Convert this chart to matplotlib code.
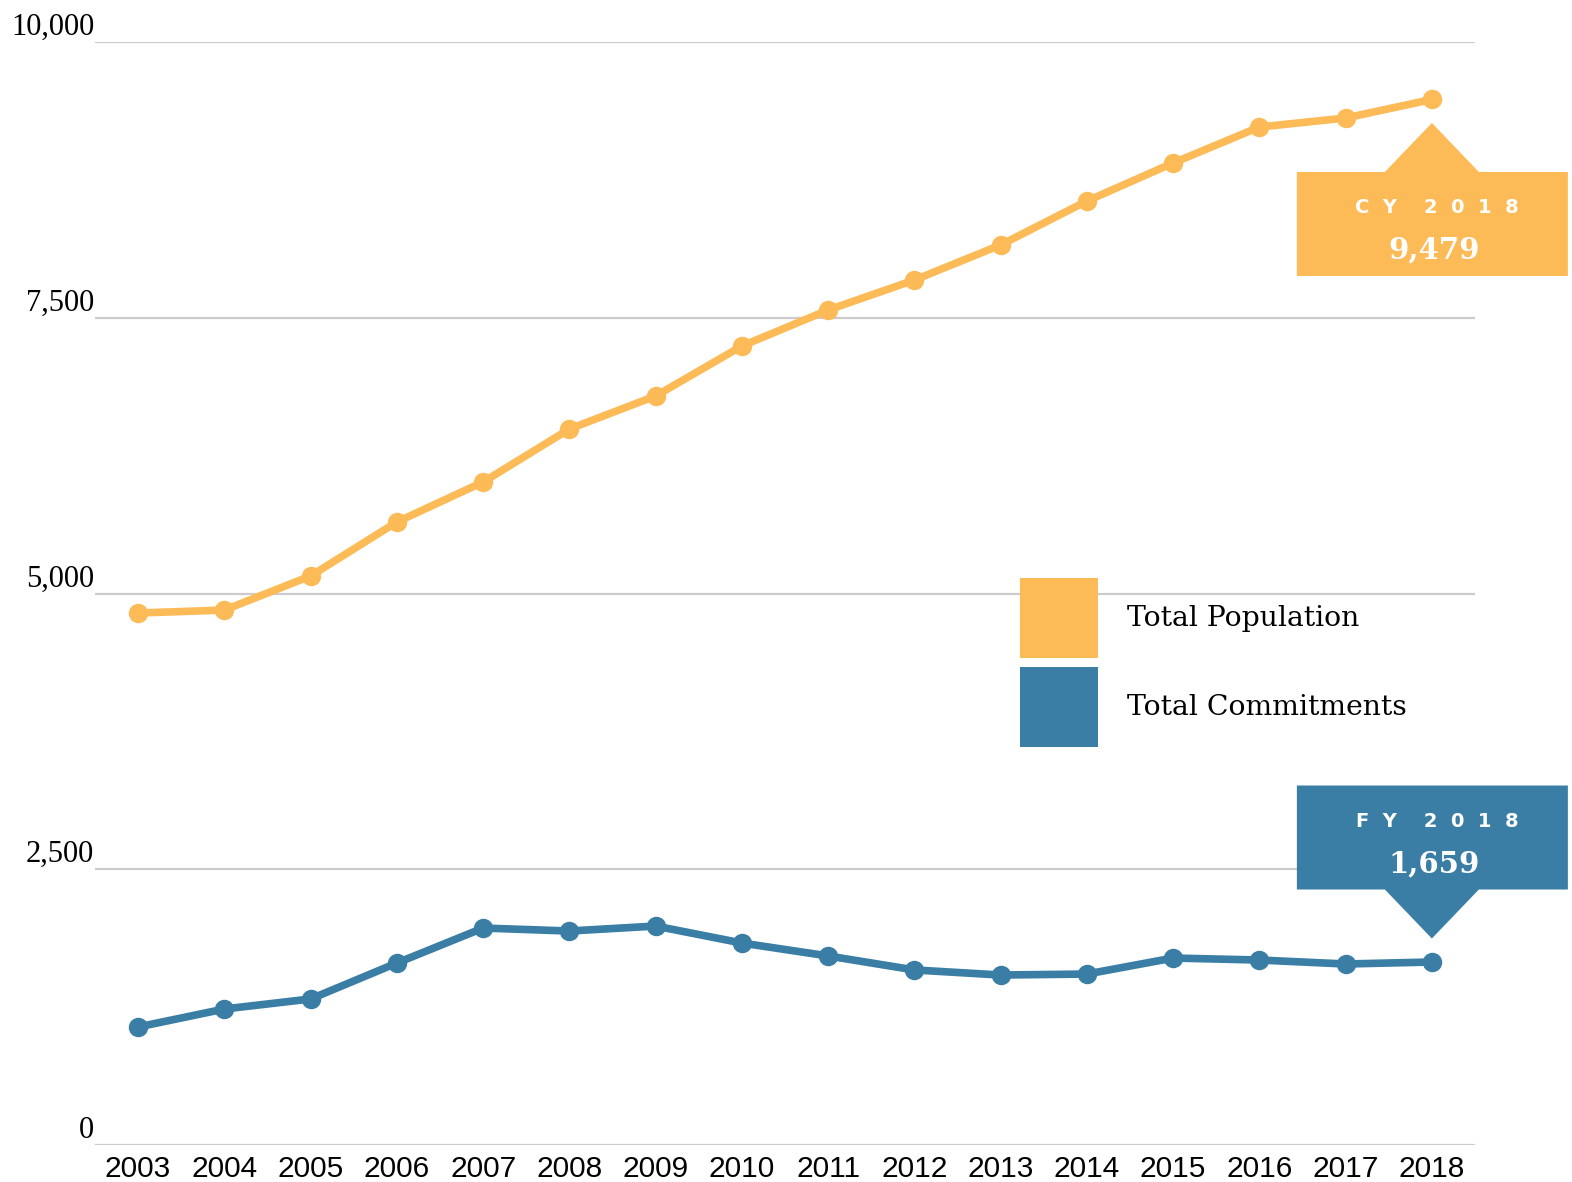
import matplotlib
matplotlib.use("Agg")
from matplotlib import pyplot
from matplotlib.patches import Polygon, Patch
from matplotlib.transforms import Affine2D, ScaledTranslation

years = list(range(2003, 2019))
population = [4823, 4850, 5159, 5648, 6011, 6491, 6791, 7244,
              7570, 7842, 8160, 8558, 8903, 9229, 9311, 9479]
commitments = [1070, 1233, 1324, 1650, 1967, 1940, 1985, 1831,
               1714, 1587, 1541, 1550, 1695, 1677, 1641, 1659]
y_ticks = [0, 2500, 5000, 7500, 10000]
y_labels = ["0", "2,500", "5,000", "7,500", "10,000"]

orange = "#fdbb58"
blue = "#3a7ea5"

fig = pyplot.figure(figsize=(15.72, 11.82), dpi=100)
ax = fig.add_axes([95 / 1572, 1 - 1145 / 1182, 1380 / 1572, 1103 / 1182])

ax.plot(years, population, color=orange, lw=5.5, marker="o",
        markersize=13, zorder=3, solid_capstyle="round")
ax.plot(years, commitments, color=blue, lw=5.5, marker="o",
        markersize=13, zorder=3, solid_capstyle="round")

ax.set_xlim(2002.5, 2018.5)
ax.set_ylim(0, 10000)
ax.set_xticks(years)
ax.set_xticklabels([str(y) for y in years], family="Liberation Sans",
                   fontsize=21.5)
ax.set_yticks(y_ticks)
ax.set_yticklabels(y_labels, family="Liberation Serif", fontsize=22)
for lbl in ax.get_yticklabels():
    lbl.set_verticalalignment("bottom")
ax.tick_params(axis="both", length=0)
ax.tick_params(axis="y", pad=0.5)
ax.tick_params(axis="x", pad=7)
ax.yaxis.grid(True, color="#cccccc", lw=1.6)
ax.set_axisbelow(True)
for s in ax.spines.values():
    s.set_visible(False)


# callout boxes, shaped in pixels around the last point of each series
def callout(x, y, color, head, value, up):
    s = 1 if up else -1
    pts = [(-135, -72.5), (-47, -72.5), (0, -23.5), (47, -72.5),
           (136, -72.5), (136, -176.5), (-135, -176.5)]
    pts = [(px, s * py) for px, py in pts]
    top = -72.5 if up else 176.5
    tr = Affine2D() + ScaledTranslation(x, y, ax.transData)
    ax.add_patch(Polygon(pts, closed=True, facecolor=color,
                         edgecolor="none", transform=tr, clip_on=False,
                         zorder=4))
    ax.text(5, top - 36, head, transform=tr, color="white",
            fontsize=14, fontweight="bold", family="DejaVu Sans",
            ha="center", va="center", zorder=5)
    ax.text(2, top - 78, value, transform=tr, color="white",
            fontsize=21, fontweight="bold", family="DejaVu Serif",
            ha="center", va="center", zorder=5)


callout(years[-1], population[-1], orange, "C  Y    2  0  1  8",
        f"{population[-1]:,}", True)
callout(years[-1], commitments[-1], blue, "F  Y    2  0  1  8",
        f"{commitments[-1]:,}", False)

handles = [Patch(facecolor=orange, edgecolor="none"),
           Patch(facecolor=blue, edgecolor="none")]
ax.legend(handles, ["Total Population", "Total Commitments"],
          loc="upper left", bbox_to_anchor=(1020 / 1572, 1 - 578 / 1182),
          bbox_transform=fig.transFigure, frameon=False, borderpad=0,
          borderaxespad=0, handlelength=2.78, handleheight=4.0,
          handletextpad=1.0, labelspacing=0.32,
          prop=dict(family="DejaVu Serif", size=20.3))

fig.savefig("out.png", dpi=100)
